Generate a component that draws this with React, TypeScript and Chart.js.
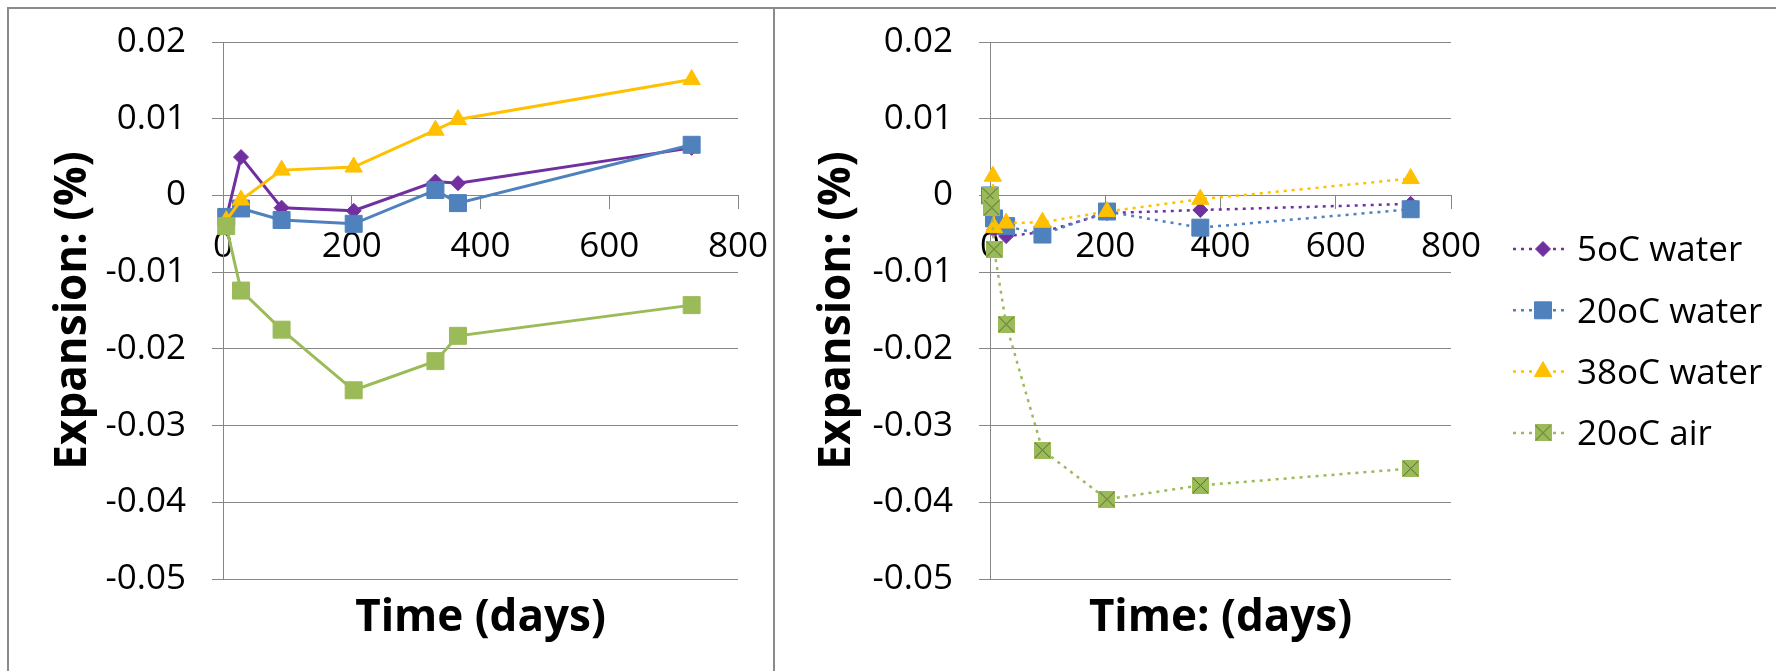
import React, { useEffect, useRef } from "react";
import { Chart, registerables } from "chart.js";

Chart.register(...registerables);

// ---------- data ----------
const SERIES_NAMES = ["5oC water", "20oC water", "38oC water", "20oC air"];
const SERIES_COLORS = ["#7030A0", "#4F81BD", "#FFC000", "#9BBB59"];

// left chart (solid lines)
const LEFT_DAYS = [5, 28, 91, 203, 330, 365, 728];
const LEFT_5C_WATER = [-0.003, 0.005, -0.0016, -0.002, 0.0018, 0.0016, 0.0062];
const LEFT_20C_WATER = [-0.0028, -0.0017, -0.0032, -0.0037, 0.0007, -0.001, 0.0066];
const LEFT_38C_WATER = [-0.0033, -0.0006, 0.0033, 0.0037, 0.0085, 0.0099, 0.0151];
const LEFT_20C_AIR = [-0.004, -0.0124, -0.0175, -0.0254, -0.0216, -0.0183, -0.0143];

// right chart (dotted lines)
const RIGHT_DAYS = [0, 7, 28, 91, 203, 365, 730];
const RIGHT_5C_WATER = [0, -0.0045, -0.0053, -0.0048, -0.0023, -0.0019, -0.0011];
const RIGHT_20C_WATER = [0, -0.003, -0.004, -0.0051, -0.0021, -0.0042, -0.0018];
const RIGHT_38C_DAYS = [5, 7, 28, 91, 203, 365, 730];
const RIGHT_38C_WATER = [0.0025, -0.0042, -0.0036, -0.0035, -0.0021, -0.0005, 0.0022];
const RIGHT_AIR_DAYS = [0, 3, 7, 28, 91, 203, 365, 730];
const RIGHT_20C_AIR = [0, -0.0016, -0.007, -0.0168, -0.0332, -0.0396, -0.0378, -0.0356];

const X_TICKS = [0, 200, 400, 600, 800];
const Y_TICKS = [-0.05, -0.04, -0.03, -0.02, -0.01, 0, 0.01, 0.02];

const LEFT_X_TITLE = "Time (days)";
const RIGHT_X_TITLE = "Time: (days)";
const Y_TITLE = "Expansion: (%)";

// ---------- styling ----------
const FONT = "'Open Sans', 'DejaVu Sans', sans-serif";
const GRID = "#868686";
const TICK_SIZE = 35;
const TICK_FONT = { family: FONT, size: TICK_SIZE };
const TITLE_FONT = { family: FONT, size: 44, weight: "bold" as const };

function makeXSquare(color: string): HTMLCanvasElement {
  const c = document.createElement("canvas");
  c.width = 17;
  c.height = 17;
  const g = c.getContext("2d")!;
  g.fillStyle = color;
  g.fillRect(0, 0, 17, 17);
  g.strokeStyle = "#55682e";
  g.lineWidth = 1;
  g.beginPath();
  g.moveTo(1, 1);
  g.lineTo(16, 16);
  g.moveTo(16, 1);
  g.lineTo(1, 16);
  g.stroke();
  return c;
}

function drawMarker(ctx: CanvasRenderingContext2D, style: any, x: number, y: number, color: string, r: number) {
  ctx.save();
  ctx.setLineDash([]);
  ctx.fillStyle = color;
  ctx.strokeStyle = color;
  ctx.lineWidth = 1;
  if (style instanceof HTMLCanvasElement) {
    ctx.drawImage(style, x - style.width / 2, y - style.height / 2);
    ctx.restore();
    return;
  }
  ctx.beginPath();
  if (style === "rectRot") {
    ctx.moveTo(x - r, y);
    ctx.lineTo(x, y - r);
    ctx.lineTo(x + r, y);
    ctx.lineTo(x, y + r);
    ctx.closePath();
  } else if (style === "rect") {
    const s = Math.SQRT1_2 * r;
    ctx.rect(x - s, y - s, 2 * s, 2 * s);
  } else if (style === "triangle") {
    let a = 0;
    ctx.moveTo(x + Math.sin(a) * r, y - Math.cos(a) * r);
    a += (2 * Math.PI) / 3;
    ctx.lineTo(x + Math.sin(a) * r, y - Math.cos(a) * r);
    a += (2 * Math.PI) / 3;
    ctx.lineTo(x + Math.sin(a) * r, y - Math.cos(a) * r);
    ctx.closePath();
  }
  ctx.fill();
  ctx.stroke();
  ctx.restore();
}

const sideLegend = {
  id: "sideLegend",
  afterDraw(chart: any) {
    const ctx: CanvasRenderingContext2D = chart.ctx;
    const base = chart.chartArea.right;
    const y0 = 240;
    const gap = 61.3;
    chart.data.datasets.forEach((d: any, i: number) => {
      const y = y0 + i * gap;
      ctx.save();
      ctx.strokeStyle = d.borderColor;
      ctx.lineWidth = 2.5;
      ctx.setLineDash([3, 5]);
      ctx.beginPath();
      ctx.moveTo(base + 62, y);
      ctx.lineTo(base + 116, y);
      ctx.stroke();
      ctx.restore();
      drawMarker(ctx, d.pointStyle, base + 92, y, d.pointBackgroundColor, d.pointRadius);
      ctx.save();
      ctx.fillStyle = "#000";
      ctx.font = `${TICK_SIZE}px ${FONT}`;
      ctx.textBaseline = "middle";
      ctx.textAlign = "left";
      ctx.fillText(d.label, base + 126, y + 2.5);
      ctx.restore();
    });
  },
};

function makeDataset(
  label: string,
  days: number[],
  values: number[],
  color: string,
  style: any,
  radius: number,
  dotted: boolean,
  order: number
) {
  return {
    label,
    data: days.map((d, i) => ({ x: d, y: values[i] })),
    borderColor: color,
    backgroundColor: color,
    borderWidth: dotted ? 2.5 : 3,
    borderDash: dotted ? [3, 5] : [],
    borderCapStyle: "butt",
    pointStyle: style,
    pointRadius: radius,
    pointBorderWidth: 1,
    pointBackgroundColor: color,
    pointBorderColor: color,
    showLine: true,
    tension: 0,
    clip: false,
    order,
    xAxisID: "x",
    yAxisID: "y",
  };
}

function buildConfig(opts: {
  datasets: any[];
  xTitle: string;
  padding: { left: number; right: number; top: number; bottom: number };
  yWidth: number;
  titleAxisHeight: number;
  plugins: any[];
}): any {
  return {
    type: "scatter",
    data: { datasets: opts.datasets },
    plugins: opts.plugins,
    options: {
      responsive: false,
      animation: false,
      devicePixelRatio: 1,
      events: [],
      layout: { padding: opts.padding },
      plugins: { legend: { display: false }, tooltip: { enabled: false }, title: { display: false } },
      scales: {
        x: {
          type: "linear",
          min: 0,
          max: 800,
          position: { y: 0 },
          afterBuildTicks: (s: any) => {
            s.ticks = X_TICKS.map((v) => ({ value: v }));
          },
          afterFit: (s: any) => {
            s.paddingLeft = 0;
            s.paddingRight = 0;
          },
          ticks: {
            font: TICK_FONT,
            color: "#000",
            padding: 18,
            maxRotation: 0,
            autoSkip: false,
            callback: (v: any) => String(v),
          },
          grid: { drawOnChartArea: false, drawTicks: true, tickLength: 13, color: GRID, lineWidth: 1 },
          border: { display: true, color: GRID, width: 1 },
        },
        xt: {
          type: "linear",
          position: "bottom",
          min: 0,
          max: 800,
          ticks: { display: false },
          grid: { display: false, drawTicks: false },
          border: { display: false },
          title: {
            display: true,
            text: opts.xTitle,
            font: TITLE_FONT,
            color: "#000",
            padding: { top: 0, bottom: 0 },
          },
          afterFit: (s: any) => {
            s.height = opts.titleAxisHeight;
            s.paddingLeft = 0;
            s.paddingRight = 0;
          },
        },
        y: {
          type: "linear",
          min: -0.05,
          max: 0.02,
          position: "left",
          afterBuildTicks: (s: any) => {
            s.ticks = Y_TICKS.map((v) => ({ value: v }));
          },
          afterFit: (s: any) => {
            s.width = opts.yWidth;
            s.paddingTop = 0;
            s.paddingBottom = 0;
          },
          ticks: {
            font: TICK_FONT,
            color: "#000",
            padding: 26,
            callback: (v: any) => String(Math.round(Number(v) * 100) / 100),
          },
          grid: { color: GRID, lineWidth: 1, drawTicks: true, tickLength: 11 },
          border: { display: true, color: GRID, width: 1 },
          title: {
            display: true,
            text: Y_TITLE,
            font: TITLE_FONT,
            color: "#000",
            padding: { top: 0, bottom: 0 },
          },
        },
      },
    },
  };
}

function LeftChart() {
  const ref = useRef<HTMLCanvasElement>(null);
  useEffect(() => {
    const datasets = [
      makeDataset(SERIES_NAMES[0], LEFT_DAYS, LEFT_5C_WATER, SERIES_COLORS[0], "rectRot", 7.5, false, 4),
      makeDataset(SERIES_NAMES[1], LEFT_DAYS, LEFT_20C_WATER, SERIES_COLORS[1], "rect", 12, false, 3),
      makeDataset(SERIES_NAMES[2], LEFT_DAYS, LEFT_38C_WATER, SERIES_COLORS[2], "triangle", 10, false, 2),
      makeDataset(SERIES_NAMES[3], LEFT_DAYS, LEFT_20C_AIR, SERIES_COLORS[3], "rect", 12, false, 1),
    ];
    const chart = new Chart(
      ref.current!,
      buildConfig({
        datasets,
        xTitle: LEFT_X_TITLE,
        padding: { left: 38, right: 35, top: 33, bottom: 26 },
        yWidth: 176,
        titleAxisHeight: 66,
        plugins: [],
      })
    );
    return () => chart.destroy();
  }, []);
  return <canvas ref={ref} width={764} height={662} style={{ width: 764, height: 662, display: "block" }} />;
}

function RightChart() {
  const ref = useRef<HTMLCanvasElement>(null);
  useEffect(() => {
    const xSquare = makeXSquare(SERIES_COLORS[3]);
    const datasets = [
      makeDataset(SERIES_NAMES[0], RIGHT_DAYS, RIGHT_5C_WATER, SERIES_COLORS[0], "rectRot", 7.5, true, 4),
      makeDataset(SERIES_NAMES[1], RIGHT_DAYS, RIGHT_20C_WATER, SERIES_COLORS[1], "rect", 12, true, 3),
      makeDataset(SERIES_NAMES[2], RIGHT_38C_DAYS, RIGHT_38C_WATER, SERIES_COLORS[2], "triangle", 10, true, 2),
      makeDataset(SERIES_NAMES[3], RIGHT_AIR_DAYS, RIGHT_20C_AIR, SERIES_COLORS[3], xSquare, 9, true, 1),
    ];
    const chart = new Chart(
      ref.current!,
      buildConfig({
        datasets,
        xTitle: RIGHT_X_TITLE,
        padding: { left: 36, right: 325, top: 33, bottom: 26 },
        yWidth: 179,
        titleAxisHeight: 66,
        plugins: [sideLegend],
      })
    );
    return () => chart.destroy();
  }, []);
  return <canvas ref={ref} width={1001} height={662} style={{ width: 1001, height: 662, display: "block" }} />;
}

export default function App() {
  const line = "#8a8a8a";
  return (
    <div style={{ position: "absolute", left: 0, top: 0, width: 1776, height: 671, background: "#fff", overflow: "hidden" }}>
      <div style={{ position: "absolute", left: 7, top: 7, width: 1769, height: 2, background: line }} />
      <div style={{ position: "absolute", left: 7, top: 7, width: 2, height: 664, background: line }} />
      <div style={{ position: "absolute", left: 773, top: 7, width: 2, height: 664, background: line }} />
      <div style={{ position: "absolute", left: 9, top: 9, width: 764, height: 662 }}>
        <LeftChart />
      </div>
      <div style={{ position: "absolute", left: 775, top: 9, width: 1001, height: 662 }}>
        <RightChart />
      </div>
    </div>
  );
}
